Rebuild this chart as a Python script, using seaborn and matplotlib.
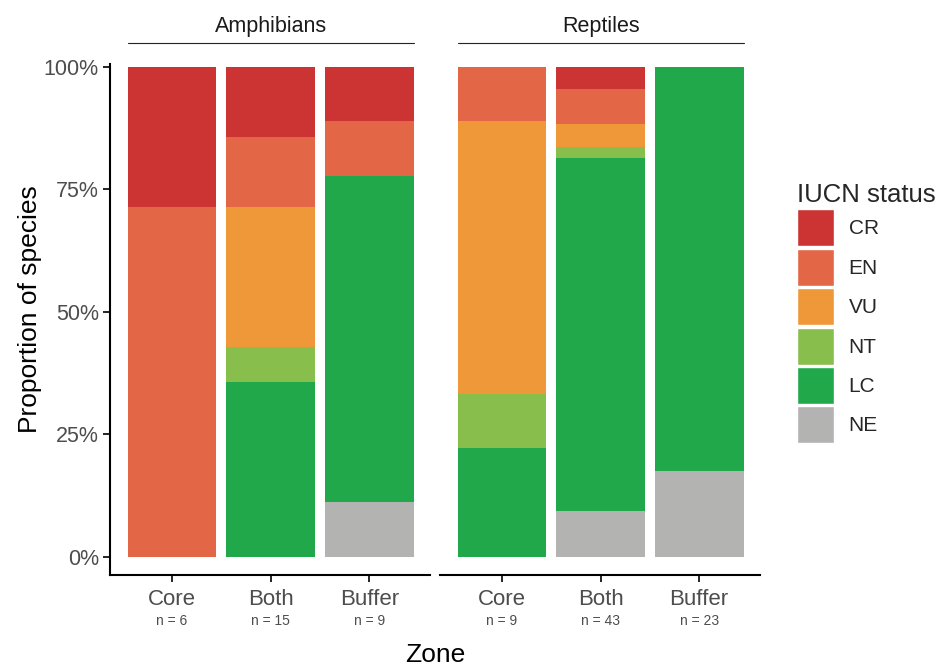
import pandas as pd
import seaborn as sns
import matplotlib.pyplot as plt
from matplotlib.patches import Patch
from matplotlib.ticker import PercentFormatter

sns.set_theme(style="white")
plt.rcParams['font.family'] = ['Liberation Sans', 'DejaVu Sans']

# Dados
groups = ["Amphibians", "Reptiles"]
zones = ["Core", "Both", "Buffer"]
n_labels = [["n = 6", "n = 15", "n = 9"], ["n = 9", "n = 43", "n = 23"]]
statuses = ["NE", "LC", "NT", "VU", "EN", "CR"]  # de baixo para cima
colors = {"CR": "#CC3333", "EN": "#E36746", "VU": "#EE983A",
          "NT": "#88BE4C", "LC": "#21A84B", "NE": "#B3B3B1"}

# proporções: Amph Core, Both, Buffer, Rept Core, Both, Buffer
NE = [0.0, 0.0, 0.111, 0.0, 0.093, 0.174]
LC = [0.0, 0.357, 0.667, 0.222, 0.721, 0.826]
NT = [0.0, 0.071, 0.0, 0.111, 0.023, 0.0]
VU = [0.0, 0.286, 0.0, 0.556, 0.047, 0.0]
EN = [0.714, 0.143, 0.111, 0.111, 0.070, 0.0]
CR = [0.286, 0.143, 0.111, 0.0, 0.046, 0.0]

df = pd.DataFrame({"group": [g for g in groups for _ in zones],
                   "zone": zones * 2,
                   "NE": NE, "LC": LC, "NT": NT, "VU": VU, "EN": EN, "CR": CR})
long = df.melt(id_vars=["group", "zone"], var_name="status", value_name="prop")
long["status"] = pd.Categorical(long["status"], statuses, ordered=True)
long = long.sort_values(["group", "zone", "status"])
long["top"] = long.groupby(["group", "zone"])["prop"].cumsum()

fig = plt.figure(figsize=(9.48, 6.66), dpi=100)
axes = [fig.add_axes([0.116, 0.137, 0.338, 0.767]),
        fig.add_axes([0.464, 0.137, 0.338, 0.767])]

for i, (ax, g) in enumerate(zip(axes, groups)):
    sub = long[long.group == g]
    # barras empilhadas: desenha do topo (CR) para baixo (NE)
    for st in statuses[::-1]:
        s = sub[sub.status == st]
        sns.barplot(data=s, x="zone", y="top", order=zones, color=colors[st],
                    width=0.9, errorbar=None, saturation=1, linewidth=0, ax=ax)
    ax.set_xlim(-0.63, 2.62)
    ax.set_ylim(-0.037, 1.006)
    ax.set_xlabel("")
    ax.set_ylabel("")
    for sp in ["top", "right"]:
        ax.spines[sp].set_visible(False)
    ax.spines["bottom"].set_linewidth(1.5)
    ax.spines["bottom"].set_color("black")
    ax.tick_params(axis="x", bottom=True, length=5, width=1.2, color="black",
                   labelsize=16, labelcolor="#4d4d4d", pad=5.5)
    for j, lab in enumerate(n_labels[i]):
        ax.annotate(lab, xy=(j, 0), xycoords=("data", "axes fraction"),
                    xytext=(0, -28.5), textcoords="offset points",
                    ha="center", va="top", fontsize=10, color="#4d4d4d")
    # titulo do painel com linha
    ax.plot([-0.45, 2.45], [1.041, 1.041], color="#222222", lw=0.8,
            transform=ax.get_xaxis_transform(), clip_on=False)
    ax.text(1, 1.074, g, transform=ax.get_xaxis_transform(), ha="center",
            va="center", fontsize=15.5, color="#1a1a1a")
    if i == 0:
        ax.spines["left"].set_linewidth(1.5)
        ax.spines["left"].set_color("black")
        ax.set_yticks([0, 0.25, 0.5, 0.75, 1.0])
        ax.yaxis.set_major_formatter(PercentFormatter(1.0, decimals=0))
        ax.tick_params(axis="y", left=True, length=5, width=1.2, color="black",
                       labelsize=15.5, labelcolor="#4d4d4d", pad=3)
    else:
        ax.spines["left"].set_visible(False)
        ax.set_yticks([])

fig.text(0.032, 0.536, "Proportion of species", rotation=90, ha="center",
         va="center", fontsize=19, color="black")
fig.text(0.459, 0.0165, "Zone", ha="center", va="center", fontsize=19,
         color="black")

handles = [Patch(facecolor=colors[s], edgecolor="white", label=s)
           for s in statuses[::-1]]
leg = fig.legend(handles=handles, title="IUCN status", loc="upper left",
                 bbox_to_anchor=(0.832, 0.738), frameon=False, fontsize=15,
                 title_fontsize=18.5, handlelength=1.78, handleheight=2.35,
                 labelspacing=0.12, handletextpad=0.7, borderaxespad=0)
leg._legend_box.align = "left"

fig.savefig("out.png", dpi=100)
